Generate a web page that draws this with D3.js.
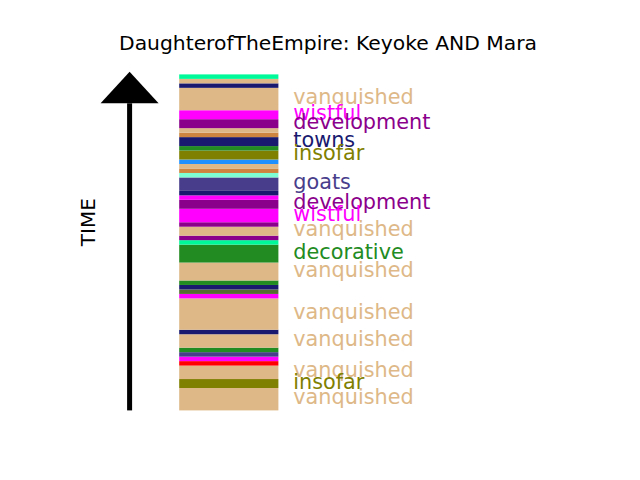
<!DOCTYPE html>
<html><head><meta charset="utf-8">
<script src="https://cdn.jsdelivr.net/npm/d3@7/dist/d3.min.js"></script>
<style>body{margin:0;background:#fff}svg{display:block}</style>
</head><body>
<svg id="chart" width="640" height="480"></svg>
<script>
// ---- data ----
const titleText = "DaughterofTheEmpire: Keyoke AND Mara";
const axisLabel = "TIME";
const categories = ["vanquished","wistful","development","towns","insofar","goats","decorative",
                    "other 1","other 2","other 3","other 4","other 5","other 6"];
const categoryColors = ["burlywood","magenta","darkmagenta","midnightblue","olive","darkslateblue","forestgreen",
                        "mediumspringgreen","peru","dodgerblue","aquamarine","darkolivegreen","red"];
// segments listed from the earliest (bottom) to the latest (top)
const segmentCategory = [
  "vanquished","insofar","vanquished","other 6","wistful","goats","decorative","vanquished","towns","vanquished",
  "wistful","other 5","towns","decorative","vanquished","decorative","other 1","development","vanquished","development",
  "wistful","development","wistful","towns","goats","other 4","other 2","vanquished","other 3","insofar",
  "decorative","towns","other 2","vanquished","development","wistful","vanquished","towns","vanquished","other 1"
];
const segmentLength = [
  5,2,3,1,1,1,1,3,1,7,
  1,1,1,1,4,4,1,1,2,1,
  3,2,1,1,3,1,1,1,1,2,
  1,2,1,1,2,2,5,1,1,1
];
const labelMinLength = 2;

// ---- layout ----
const plot = {left: 80, right: 576, top: 57.6, bottom: 427.2};
const svg = d3.select("#chart");
const font = "DejaVu Sans, sans-serif";

let acc = 0;
const segs = segmentCategory.map((c, i) => {
  const s = {cat: c, start: acc, end: acc + segmentLength[i]};
  acc += segmentLength[i];
  return s;
});
const total = acc;
const pad = total * 0.05;

const x = d3.scaleLinear().domain([0, 1]).range([plot.left, plot.right]);
const y = d3.scaleLinear().domain([-pad, total + pad]).range([plot.bottom, plot.top]);
const color = d3.scaleOrdinal().domain(categories).range(categoryColors);

// title
svg.append("text")
  .attr("x", (plot.left + plot.right) / 2).attr("y", plot.top - 7.6)
  .attr("text-anchor", "middle")
  .style("font-family", font).style("font-size", "20.3px").attr("fill", "#000")
  .text(titleText);

// time arrow
const ax = x(0.1);
const shaftTop = y(total - 6.45);
svg.append("rect")
  .attr("x", ax - 2.5).attr("width", 5)
  .attr("y", shaftTop).attr("height", y(0) - shaftTop)
  .attr("fill", "#000");
const tip = y(total + 0.6);
svg.append("path")
  .attr("d", `M${ax},${tip} L${ax + 29},${shaftTop} L${ax - 29},${shaftTop} Z`)
  .attr("fill", "#000");

// axis label
svg.append("text")
  .attr("transform", `translate(${95},${y(total * 0.56)}) rotate(-90)`)
  .attr("text-anchor", "middle")
  .style("font-family", font).style("font-size", "20px").attr("fill", "#000")
  .text(axisLabel);

// bar segments
svg.append("g").selectAll("rect").data(segs).join("rect")
  .attr("x", x(0.2)).attr("width", x(0.4) - x(0.2))
  .attr("y", d => y(d.end))
  .attr("height", d => y(d.start) - y(d.end))
  .attr("fill", d => color(d.cat));

// labels (drawn top to bottom so lower labels sit on top)
const labeled = segs.filter(d => d.end - d.start >= labelMinLength).reverse();
svg.append("g").selectAll("text").data(labeled).join("text")
  .attr("x", x(0.43))
  .attr("y", d => y((d.start + d.end) / 2) + 5)
  .style("font-family", font).style("font-size", "20.8px")
  .attr("fill", d => color(d.cat))
  .text(d => d.cat);
</script>
</body></html>
